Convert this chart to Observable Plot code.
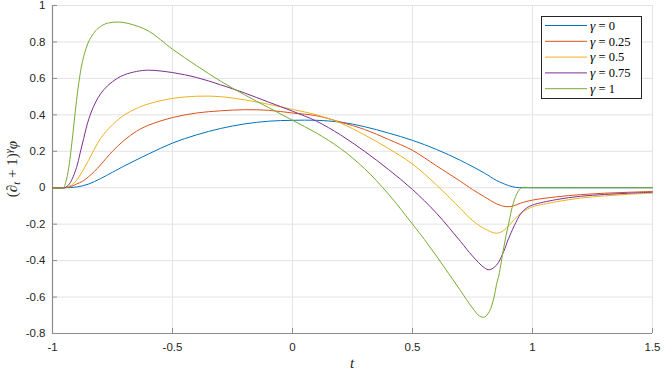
<!DOCTYPE html>
<html>
<head>
<meta charset="utf-8">
<script src="https://cdn.jsdelivr.net/npm/d3@7"></script>
<script src="https://cdn.jsdelivr.net/npm/@observablehq/plot@0.6"></script>
<style>
  html, body { margin: 0; padding: 0; background: #fff; }
  #wrap { position: relative; width: 664px; height: 374px; }
</style>
</head>
<body>
<div id="wrap"></div>
<script>
const xTicks = [-1, -0.5, 0, 0.5, 1, 1.5];
const yTicks = [-0.8, -0.6, -0.4, -0.2, 0, 0.2, 0.4, 0.6, 0.8, 1];
const gammaLabels = ["0", "0.25", "0.5", "0.75", "1"];
const colors = ["#0072BD", "#D95319", "#EDB120", "#7E2F8E", "#77AC30"];

const tG0 = [-1, -0.95, -0.9, -0.85, -0.8, -0.75, -0.7, -0.6, -0.5, -0.4, -0.3, -0.2, -0.1, 0, 0.1, 0.2, 0.3, 0.4, 0.5, 0.6, 0.7, 0.8, 0.85, 0.9, 0.93, 0.96, 1, 1.25, 1.5];
const yG0 = [0, 0, 0.004, 0.02, 0.05, 0.085, 0.12, 0.185, 0.245, 0.29, 0.325, 0.35, 0.365, 0.37, 0.37, 0.36, 0.335, 0.30, 0.26, 0.21, 0.15, 0.08, 0.04, 0.012, 0.002, 0, 0, 0, 0];

const tG025 = [-1, -0.95, -0.92, -0.9, -0.875, -0.85, -0.825, -0.8, -0.75, -0.7, -0.65, -0.6, -0.5, -0.4, -0.3, -0.2, -0.1, 0, 0.1, 0.2, 0.3, 0.4, 0.5, 0.6, 0.7, 0.75, 0.8, 0.85, 0.89, 0.92, 0.95, 1, 1.1, 1.2, 1.3, 1.4, 1.5];
const yG025 = [0, 0, 0.008, 0.02, 0.035, 0.06, 0.09, 0.125, 0.2, 0.262, 0.31, 0.343, 0.385, 0.41, 0.422, 0.428, 0.425, 0.41, 0.395, 0.36, 0.32, 0.265, 0.205, 0.12, 0.035, -0.01, -0.05, -0.088, -0.104, -0.1, -0.085, -0.068, -0.05, -0.038, -0.03, -0.025, -0.02];

const tG05 = [-1, -0.95, -0.92, -0.9, -0.88, -0.85, -0.8, -0.75, -0.7, -0.65, -0.6, -0.5, -0.4, -0.3, -0.2, -0.1, 0, 0.1, 0.2, 0.3, 0.4, 0.5, 0.6, 0.7, 0.75, 0.8, 0.85, 0.88, 0.9, 0.95, 0.975, 1, 1.1, 1.2, 1.3, 1.4, 1.5];
const yG05 = [0, 0, 0.015, 0.04, 0.08, 0.15, 0.27, 0.345, 0.4, 0.435, 0.46, 0.49, 0.502, 0.5, 0.482, 0.458, 0.43, 0.40, 0.355, 0.29, 0.215, 0.13, 0.015, -0.115, -0.18, -0.225, -0.25, -0.235, -0.21, -0.14, -0.12, -0.105, -0.077, -0.057, -0.045, -0.036, -0.03];

const tG075 = [-1, -0.95, -0.93, -0.9, -0.885, -0.87, -0.855, -0.84, -0.82, -0.8, -0.77, -0.73, -0.7, -0.65, -0.6, -0.5, -0.4, -0.3, -0.2, -0.1, 0, 0.1, 0.2, 0.3, 0.4, 0.5, 0.6, 0.7, 0.75, 0.8, 0.82, 0.85, 0.88, 0.9, 0.95, 0.975, 1, 1.1, 1.2, 1.3, 1.4, 1.5];
const yG075 = [0, 0, 0.02, 0.11, 0.19, 0.27, 0.35, 0.41, 0.47, 0.515, 0.56, 0.6, 0.62, 0.638, 0.645, 0.632, 0.605, 0.565, 0.52, 0.47, 0.42, 0.365, 0.29, 0.2, 0.1, -0.01, -0.14, -0.295, -0.375, -0.44, -0.45, -0.425, -0.35, -0.28, -0.145, -0.112, -0.095, -0.065, -0.047, -0.037, -0.03, -0.025];

const tG1 = [-1, -0.955, -0.945, -0.932, -0.915, -0.9, -0.88, -0.87, -0.86, -0.85, -0.84, -0.83, -0.82, -0.81, -0.79, -0.77, -0.73, -0.68, -0.6, -0.5, -0.4, -0.3, -0.2, -0.1, 0, 0.1, 0.2, 0.3, 0.4, 0.5, 0.55, 0.6, 0.65, 0.7, 0.75, 0.78, 0.8, 0.82, 0.84, 0.85, 0.86, 0.88, 0.9, 0.92, 0.94, 0.955, 1, 1.25, 1.5];
const yG1 = [0, 0, 0.03, 0.113, 0.296, 0.479, 0.662, 0.72, 0.765, 0.8, 0.825, 0.845, 0.862, 0.875, 0.893, 0.903, 0.909, 0.9, 0.86, 0.76, 0.67, 0.585, 0.51, 0.44, 0.37, 0.3, 0.215, 0.105, -0.035, -0.2, -0.285, -0.375, -0.47, -0.565, -0.66, -0.705, -0.71, -0.68, -0.6, -0.53, -0.48, -0.33, -0.2, -0.085, -0.02, 0, 0, 0, 0];

const seriesT = [tG0, tG025, tG05, tG075, tG1];
const seriesY = [yG0, yG025, yG05, yG075, yG1];

const data = [];
seriesT.forEach((ts, i) => ts.forEach((t, j) => data.push({t, v: seriesY[i][j], g: gammaLabels[i]})));

const W = 664, H = 374, mL = 52, mR = 12, mT = 5, mB = 41;
const axisColor = "#8c8c8c";
const fmt = d => String(d);

const chart = Plot.plot({
  width: W, height: H,
  marginLeft: mL, marginRight: mR, marginTop: mT, marginBottom: mB,
  style: {fontFamily: "'Liberation Sans', Arial, sans-serif", fontSize: "11.5px", color: "#262626", background: "#fff"},
  x: {domain: [-1, 1.5], ticks: xTicks},
  y: {domain: [-0.8, 1], ticks: yTicks},
  color: {domain: gammaLabels, range: colors},
  marks: [
    Plot.gridX(xTicks, {stroke: "#e3e3e3", strokeOpacity: 1}),
    Plot.gridY(yTicks, {stroke: "#e3e3e3", strokeOpacity: 1}),
    Plot.tickY(yTicks, {y: d => d, stroke: axisColor, insetRight: W - mL - mR - 5}),
    Plot.tickX(xTicks, {x: d => d, stroke: axisColor, insetTop: H - mT - mB - 5}),
    Plot.ruleX([xTicks[0]], {stroke: axisColor, strokeWidth: 1.2}),
    Plot.ruleY([yTicks[0]], {stroke: axisColor, strokeWidth: 1.2}),
    Plot.axisY(yTicks, {tickSize: 0, tickPadding: 7, tickFormat: fmt, label: null, fill: "#262626"}),
    Plot.axisX(xTicks, {tickSize: 0, tickPadding: 9, tickFormat: fmt, label: null, fill: "#262626"}),
    Plot.line(data, {x: "t", y: "v", stroke: "g", z: "g", strokeWidth: 1, curve: "catmull-rom"})
  ]
});

document.getElementById("wrap").appendChild(chart);

// axis labels (LaTeX-like)
const svg = d3.select(chart);
const serif = "'Liberation Serif', 'Times New Roman', serif";
const yl = svg.append("text")
  .attr("transform", `translate(17,${(mT + H - mB) / 2}) rotate(-90)`)
  .attr("text-anchor", "middle")
  .attr("font-family", serif)
  .attr("font-size", 15)
  .attr("fill", "#262626");
yl.append("tspan").text("(∂");
yl.append("tspan").attr("font-style", "italic").attr("font-size", 10.5).attr("dy", 3).text("t");
yl.append("tspan").attr("dy", -3).text(" + 1)");
yl.append("tspan").attr("font-style", "italic").attr("font-size", 10.5).attr("dy", -5).text("γ");
yl.append("tspan").attr("font-style", "italic").attr("dy", 5).text("φ");

svg.append("text")
  .attr("x", (mL + W - mR) / 2).attr("y", 368)
  .attr("text-anchor", "middle")
  .attr("font-family", serif)
  .attr("font-style", "italic")
  .attr("font-size", 15)
  .attr("fill", "#262626")
  .text("t");

// legend drawn into the SVG
const lg = svg.append("g").attr("transform", "translate(541,16)");
lg.append("rect").attr("x", 0.5).attr("y", 0.5).attr("width", 100).attr("height", 82)
  .attr("fill", "#fff").attr("stroke", "#262626").attr("stroke-width", 1);
gammaLabels.forEach((g, i) => {
  const yy = 9.5 + i * 15.8;
  lg.append("line").attr("x1", 4).attr("x2", 46).attr("y1", yy).attr("y2", yy)
    .attr("stroke", colors[i]).attr("stroke-width", 1);
  const tx = lg.append("text").attr("x", 49).attr("y", yy + 4.2)
    .attr("text-anchor", "start")
    .attr("font-family", serif).attr("font-size", 12.5).attr("fill", "#000");
  tx.append("tspan").attr("font-style", "italic").attr("font-size", 13.5).text("γ");
  tx.append("tspan").text(" = " + g);
});
</script>
</body>
</html>
